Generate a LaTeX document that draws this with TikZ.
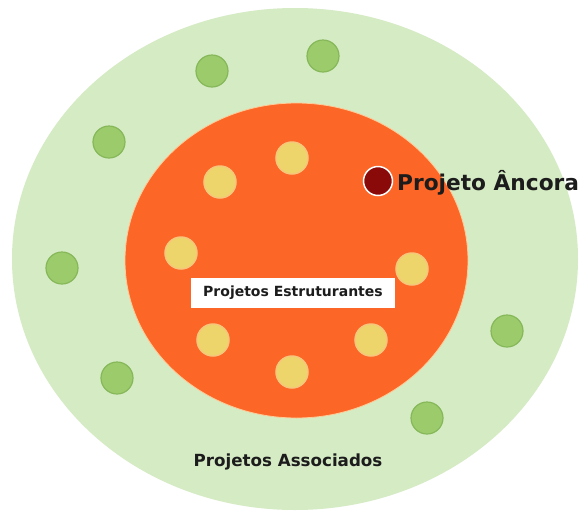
\documentclass[tikz,border=0pt]{standalone}
\usepackage{fontspec}
\setmainfont{DejaVu Sans}
\usetikzlibrary{shapes.geometric}
\definecolor{outergreen}{HTML}{D5EBC4}
\definecolor{innerorange}{HTML}{FC6627}
\definecolor{dotgreen}{HTML}{9CCB6B}
\definecolor{dotgreenedge}{HTML}{86B85A}
\definecolor{dotyellow}{HTML}{EDD56B}
\definecolor{dotyellowedge}{HTML}{F6C77A}
\definecolor{anchorred}{HTML}{8A0A0A}
\definecolor{textdark}{HTML}{1C1C1C}
\begin{document}
\begin{tikzpicture}[x=1pt,y=-1pt,
  greendot/.style={circle,fill=dotgreen,draw=dotgreenedge,line width=1.2pt,minimum size=32pt,inner sep=0pt},
  yellowdot/.style={circle,fill=dotyellow,draw=dotyellowedge,line width=1.5pt,minimum size=32pt,inner sep=0pt},
  lbl/.style={text=textdark,inner sep=0pt}]
\useasboundingbox (0,0) rectangle (579,512);
\fill[white] (0,0) rectangle (579,512);
\node[ellipse,fill=outergreen,minimum width=566pt,minimum height=502pt,inner sep=0pt] (outer) at (295,259) {};
\node[ellipse,fill=innerorange,draw=orange!40!white,line width=0.8pt,minimum width=343pt,minimum height=315pt,inner sep=0pt] (inner) at (296.5,260.5) {};
% yellow dots
\node[yellowdot] (y1) at (292,158) {};
\node[yellowdot] (y2) at (220,182) {};
\node[yellowdot] (y3) at (181,253) {};
\node[yellowdot] (y4) at (412,269) {};
\node[yellowdot] (y5) at (213,340) {};
\node[yellowdot] (y6) at (371,340) {};
\node[yellowdot] (y7) at (292,372) {};
% green dots
\node[greendot] (g1) at (212,71) {};
\node[greendot] (g2) at (323,56) {};
\node[greendot] (g3) at (109,142) {};
\node[greendot] (g4) at (62,268) {};
\node[greendot] (g5) at (117,378) {};
\node[greendot] (g6) at (507,331) {};
\node[greendot] (g7) at (427,418) {};
% anchor
\node[circle,fill=anchorred,draw=white,line width=1.5pt,minimum size=29pt,inner sep=0pt] (anchor) at (378,181) {};
\node[lbl,anchor=west,font=\bfseries\fontsize{21.7}{24}\selectfont] (anchorlbl) at (397,183) {Projeto Âncora};
% box
\node[fill=white,minimum width=204pt,minimum height=30pt,inner sep=0pt,font=\bfseries\fontsize{14}{16}\selectfont,text=textdark] (estr) at (293,293) {Projetos Estruturantes};
\node[lbl,font=\bfseries\fontsize{16.7}{19}\selectfont] (assoc) at (288,462) {Projetos Associados};
\end{tikzpicture}
\end{document}
